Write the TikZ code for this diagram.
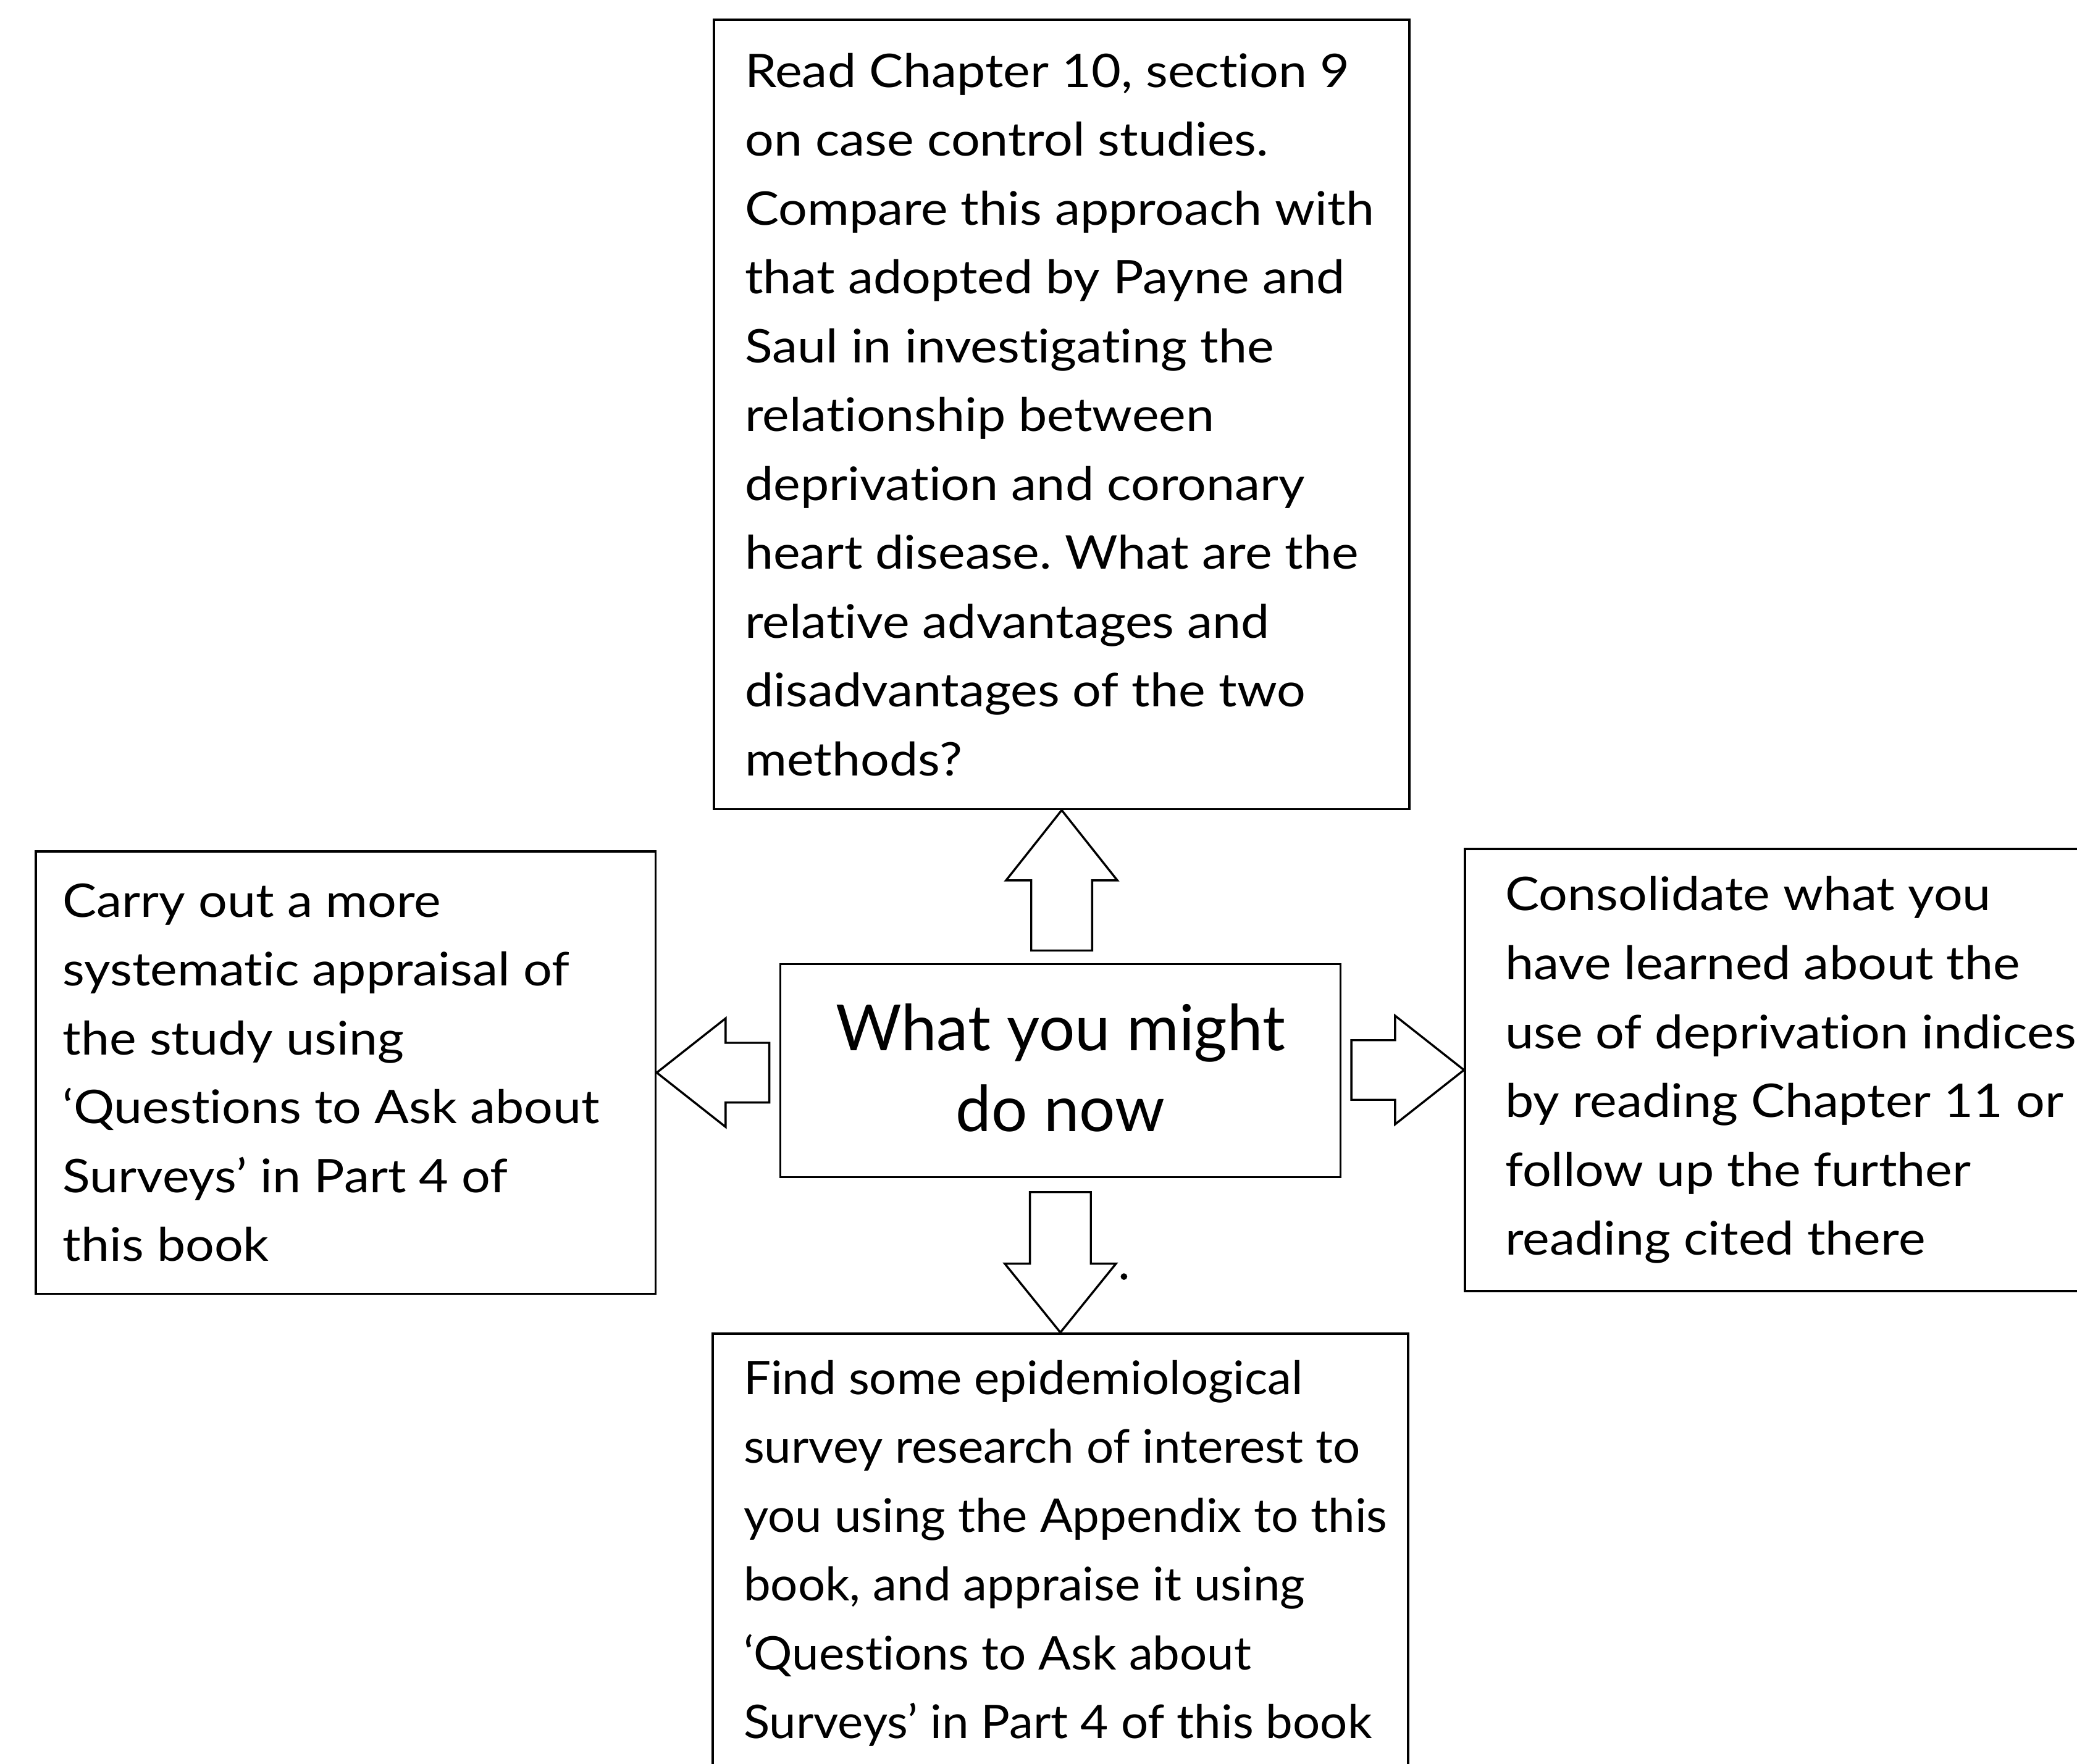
\documentclass[tikz,border=0pt]{standalone}
\usepackage{fontspec}
\setmainfont{Lato}[FakeStretch=1.1, Ligatures={NoCommon}]
\newfontfamily\centerfont{Lato}[Ligatures={NoCommon}]
\newfontfamily\bottomfont{Lato}[FakeStretch=1.04, Ligatures={NoCommon}]
\frenchspacing
\begin{document}
\begin{tikzpicture}[x=1pt,y=-1pt,
  box/.style={draw, line width=1.6pt, inner sep=0pt},
  txt/.style={anchor=west, align=left, inner sep=0pt, font=\fontsize{35}{52}\selectfont},
  bigtxt/.style={align=center, inner sep=0pt, font=\centerfont\fontsize{48}{61}\selectfont},
  blockarrow/.style={draw, line width=1.6pt, line join=miter}]
\useasboundingbox (0,0) rectangle (1568,1332);
% boxes
\node[box, minimum width=525pt, minimum height=596pt] (top) at (801.5,313) {};
\node[box, minimum width=468pt, minimum height=334pt] (left) at (261,810) {};
\node[box, minimum width=423pt, minimum height=161pt] (center) at (800.5,808.5) {};
\node[box, minimum width=470pt, minimum height=334pt] (right) at (1341,808) {};
\node[box, minimum width=525pt, minimum height=332pt] (bottom) at (800.5,1173) {};
% texts
\node[txt, xshift=24pt] (toptxt) at (top.west) {Read Chapter 10, section 9\\on case control studies.\\Compare this approach with\\that adopted by Payne and\\Saul in investigating the\\relationship between\\deprivation and coronary\\heart disease. What are the\\relative advantages and\\disadvantages of the two\\methods?};
\node[txt, xshift=21pt] (lefttxt) at (left.west) {Carry out a more\\systematic appraisal of\\the study using\\‘Questions to Ask about\\Surveys’ in Part 4 of\\this book};
\node[bigtxt, yshift=2pt] (centertxt) at (center.center) {What you might\\do now};
\node[txt, xshift=31pt] (righttxt) at (right.west) {Consolidate what you\\have learned about the\\use of deprivation indices\\by reading Chapter 11 or\\follow up the further\\reading cited there};
\node[txt, xshift=24pt, font=\bottomfont\fontsize{35}{52}\selectfont] (bottomtxt) at (bottom.west) {Find some epidemiological\\survey research of interest to\\you using the Appendix to this\\book, and appraise it using\\‘Questions to Ask about\\Surveys’ in Part 4 of this book};
% block arrows
\draw[blockarrow] (top.south) -- ++(-42,53) -- ++(19,0) -- ++(0,53) -- ++(46,0) -- ++(0,-53) -- ++(19,0) -- cycle;
\draw[blockarrow] (left.east) -- ++(52,-41) -- ++(0,18.5) -- ++(33,0) -- ++(0,45) -- ++(-33,0) -- ++(0,18.5) -- cycle;
\draw[blockarrow] (right.west) -- ++(-52,-41) -- ++(0,18.5) -- ++(-33,0) -- ++(0,45) -- ++(33,0) -- ++(0,18.5) -- cycle;
\draw[blockarrow] (bottom.north) -- ++(-42,-52) -- ++(19,0) -- ++(0,-54) -- ++(46,0) -- ++(0,54) -- ++(19,0) -- cycle;
% stray mark
\fill (848.5,964) circle (2.5pt);
\end{tikzpicture}
\end{document}
